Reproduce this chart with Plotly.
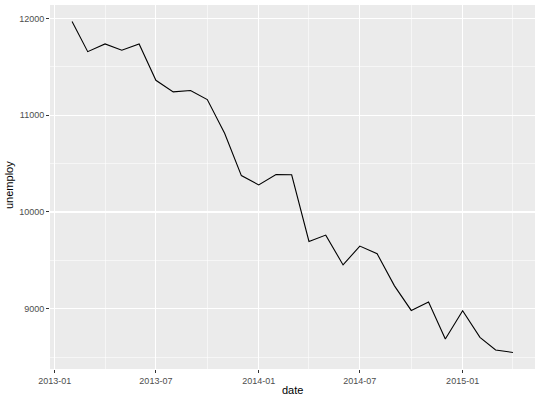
import plotly.graph_objects as go

dates = ["2013-02-01", "2013-03-01", "2013-04-01", "2013-05-01", "2013-06-01", "2013-07-01",
         "2013-08-01", "2013-09-01", "2013-10-01", "2013-11-01", "2013-12-01", "2014-01-01",
         "2014-02-01", "2014-03-01", "2014-04-01", "2014-05-01", "2014-06-01", "2014-07-01",
         "2014-08-01", "2014-09-01", "2014-10-01", "2014-11-01", "2014-12-01", "2015-01-01",
         "2015-02-01", "2015-03-01", "2015-04-01"]
unemploy = [11967, 11656, 11736, 11671, 11736, 11360, 11241, 11255, 11161, 10813, 10376, 10280,
            10387, 10384, 9696, 9761, 9453, 9648, 9568, 9237, 8983, 9071, 8688, 8979,
            8705, 8575, 8549]
x_ticks = ["2013-01-01", "2013-07-01", "2014-01-01", "2014-07-01", "2015-01-01"]
x_tick_labels = ["2013-01", "2013-07", "2014-01", "2014-07", "2015-01"]
x_minor = ["2013-04-01", "2013-10-01", "2014-04-01", "2014-10-01", "2015-04-01"]
y_ticks = [9000, 10000, 11000, 12000]
y_minor = [8500, 9500, 10500, 11500]

fig = go.Figure()
fig.add_trace(go.Scatter(x=dates, y=unemploy, mode="lines",
                         line=dict(color="black", width=1.1), hoverinfo="skip"))

font = "Liberation Sans, Arial, sans-serif"
L, R, T, B = 50, 5, 5, 31
W, H = 540, 400
pw, ph = W - L - R, H - T - B

fig.update_layout(
    width=W, height=H,
    margin=dict(l=L, r=R, t=T, b=B, autoexpand=False),
    paper_bgcolor="white", plot_bgcolor="#EBEBEB",
    showlegend=False,
    font=dict(family=font, color="#4D4D4D", size=9),
    xaxis=dict(
        type="date", automargin=False,
        range=["2012-12-23 12:00", "2015-05-10 12:00"],
        tickmode="array", tickvals=x_ticks, ticktext=x_tick_labels,
        ticks="outside", ticklen=3, tickwidth=1, tickcolor="#333333",
        showgrid=True, gridcolor="white", gridwidth=1.1,
        minor=dict(tickmode="array", tickvals=x_minor, showgrid=True,
                   gridcolor="white", gridwidth=0.55, ticks=""),
        zeroline=False, showline=False,
        tickfont=dict(size=9, color="#4D4D4D"),
    ),
    yaxis=dict(
        automargin=False,
        range=[8378, 12138],
        tickmode="array", tickvals=y_ticks, ticktext=[str(v) for v in y_ticks],
        ticks="outside", ticklen=3, tickwidth=1, tickcolor="#333333",
        showgrid=True, gridcolor="white", gridwidth=1.1,
        minor=dict(tickmode="array", tickvals=y_minor, showgrid=True,
                   gridcolor="white", gridwidth=0.55, ticks=""),
        zeroline=False, showline=False,
        tickfont=dict(size=9, color="#4D4D4D"),
    ),
    annotations=[
        dict(text="date", xref="paper", yref="paper", x=0.5, y=-(390 - (H - B)) / ph,
             xanchor="center", yanchor="middle", showarrow=False,
             font=dict(family=font, size=11, color="black")),
        dict(text="unemploy", xref="paper", yref="paper", x=-(L - 9) / pw,
             y=((H - B) - 185) / ph, textangle=-90,
             xanchor="center", yanchor="middle", showarrow=False,
             font=dict(family=font, size=11, color="black")),
    ],
)

fig.write_html("out.html", config={"displayModeBar": False, "staticPlot": True},
               post_script="document.body.style.margin='0';document.body.style.overflow='hidden';")
